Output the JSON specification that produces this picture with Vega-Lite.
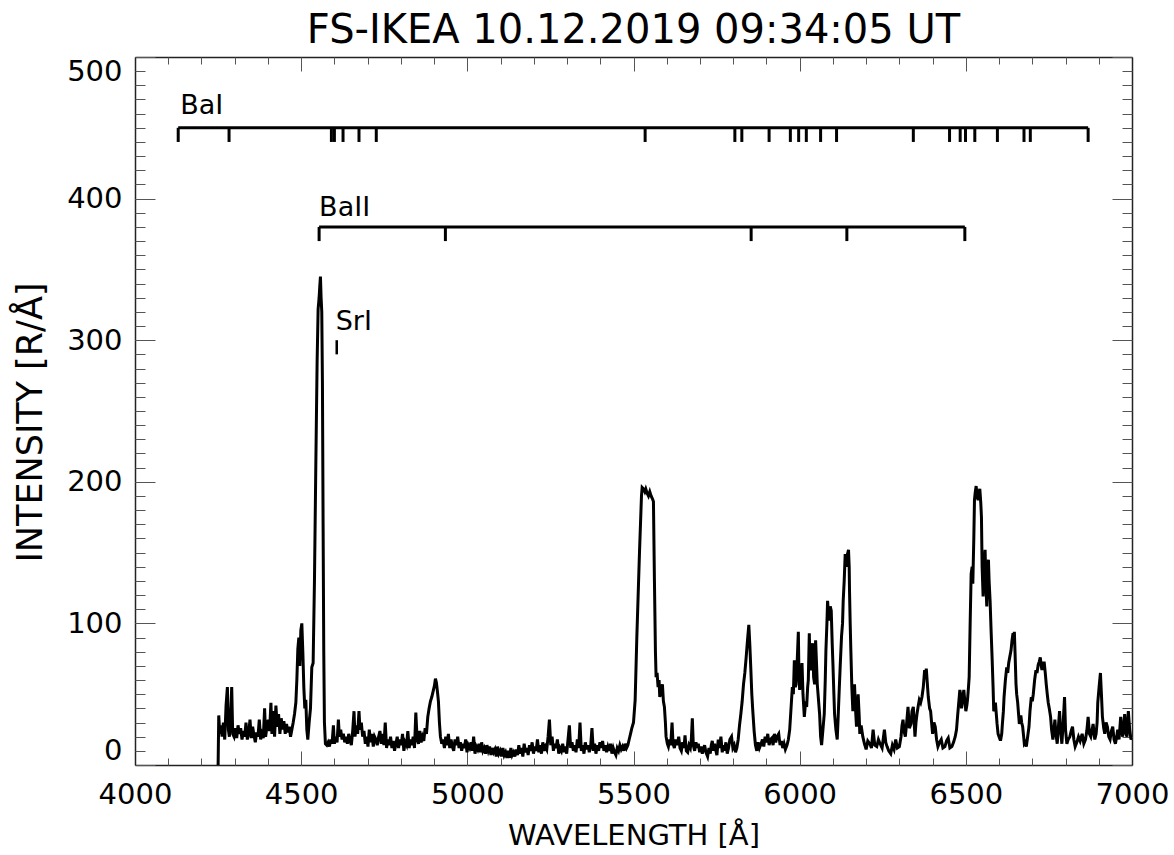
{
"$schema": "https://vega.github.io/schema/vega-lite/v6.json",
"width": 997, "height": 708,
"autosize": {"type": "none"},
"padding": {"left": 135, "top": 57, "right": 42, "bottom": 90},
"background": "white",
"title": {"text": "FS-IKEA 10.12.2019 09:34:05 UT", "fontSize": 40, "font": "DejaVu Sans", "fontWeight": "normal", "anchor": "middle", "frame": "group", "baseline": "alphabetic", "offset": 13, "dy": 39, "color": "black"},
"config": {"view": {"stroke": null}, "font": "DejaVu Sans",
  "axis": {"grid": false, "labelFont": "DejaVu Sans", "titleFont": "DejaVu Sans", "labelColor": "black", "titleColor": "black", "titleFontWeight": "normal", "domainColor": "#222", "domainWidth": 1.5, "tickColor": "#555", "tickWidth": 1, "labelOverlap": false, "labelBound": false}},
"datasets": {
"spec": [
{"w":4249,"i":-20},{"w":4252,"i":35},{"w":4255,"i":22},{"w":4259,"i":28},{"w":4262,"i":20},{"w":4266,"i":30},{"w":4270,"i":18},{"w":4274,"i":42},{"w":4278,"i":55},{"w":4281,"i":25},{"w":4284,"i":20},{"w":4288,"i":35},{"w":4291,"i":55},{"w":4294,"i":22},{"w":4298,"i":20},{"w":4302,"i":26},{"w":4306,"i":19},{"w":4310,"i":28},{"w":4314,"i":22},{"w":4318,"i":26},{"w":4322,"i":18},{"w":4326,"i":24},{"w":4330,"i":20},{"w":4334,"i":30},{"w":4338,"i":18},{"w":4342,"i":22},{"w":4346,"i":32},{"w":4350,"i":19},{"w":4354,"i":27},{"w":4358,"i":21},{"w":4362,"i":16},{"w":4366,"i":23},{"w":4370,"i":20},{"w":4374,"i":32},{"w":4378,"i":18},{"w":4382,"i":22},{"w":4386,"i":19},{"w":4390,"i":40},{"w":4393,"i":20},{"w":4397,"i":27},{"w":4401,"i":32},{"w":4405,"i":24},{"w":4409,"i":44},{"w":4412,"i":22},{"w":4416,"i":38},{"w":4420,"i":20},{"w":4424,"i":42},{"w":4428,"i":27},{"w":4432,"i":36},{"w":4436,"i":22},{"w":4440,"i":33},{"w":4444,"i":25},{"w":4448,"i":31},{"w":4452,"i":22},{"w":4456,"i":29},{"w":4460,"i":23},{"w":4464,"i":27},{"w":4468,"i":20},{"w":4472,"i":25},{"w":4476,"i":30},{"w":4480,"i":36},{"w":4484,"i":44},{"w":4487,"i":60},{"w":4490,"i":82},{"w":4493,"i":90},{"w":4496,"i":70},{"w":4499,"i":95},{"w":4502,"i":100},{"w":4505,"i":80},{"w":4508,"i":55},{"w":4511,"i":40},{"w":4514,"i":46},{"w":4517,"i":25},{"w":4520,"i":18},{"w":4524,"i":30},{"w":4528,"i":40},{"w":4532,"i":69},{"w":4536,"i":72},{"w":4540,"i":130},{"w":4544,"i":210},{"w":4548,"i":285},{"w":4551,"i":322},{"w":4554,"i":330},{"w":4556,"i":338},{"w":4558,"i":345},{"w":4560,"i":330},{"w":4562,"i":320},{"w":4564,"i":270},{"w":4566,"i":170},{"w":4568,"i":80},{"w":4570,"i":30},{"w":4573,"i":15},{"w":4577,"i":14},{"w":4581,"i":16},{"w":4585,"i":13},{"w":4589,"i":18},{"w":4593,"i":15},{"w":4597,"i":28},{"w":4600,"i":15},{"w":4604,"i":20},{"w":4608,"i":16},{"w":4612,"i":32},{"w":4615,"i":20},{"w":4619,"i":25},{"w":4623,"i":18},{"w":4627,"i":22},{"w":4631,"i":16},{"w":4635,"i":20},{"w":4639,"i":15},{"w":4643,"i":22},{"w":4647,"i":17},{"w":4651,"i":14},{"w":4655,"i":24},{"w":4659,"i":38},{"w":4662,"i":20},{"w":4666,"i":28},{"w":4670,"i":22},{"w":4674,"i":38},{"w":4677,"i":25},{"w":4681,"i":30},{"w":4685,"i":20},{"w":4689,"i":24},{"w":4693,"i":15},{"w":4697,"i":20},{"w":4701,"i":13},{"w":4705,"i":25},{"w":4709,"i":16},{"w":4713,"i":22},{"w":4717,"i":13},{"w":4721,"i":20},{"w":4725,"i":18},{"w":4729,"i":14},{"w":4733,"i":20},{"w":4737,"i":24},{"w":4741,"i":15},{"w":4745,"i":22},{"w":4749,"i":14},{"w":4753,"i":30},{"w":4757,"i":12},{"w":4761,"i":18},{"w":4765,"i":14},{"w":4769,"i":20},{"w":4773,"i":12},{"w":4777,"i":17},{"w":4781,"i":10},{"w":4785,"i":15},{"w":4789,"i":20},{"w":4793,"i":12},{"w":4797,"i":18},{"w":4801,"i":14},{"w":4805,"i":22},{"w":4809,"i":10},{"w":4813,"i":16},{"w":4817,"i":14},{"w":4821,"i":24},{"w":4825,"i":12},{"w":4829,"i":18},{"w":4833,"i":14},{"w":4837,"i":20},{"w":4841,"i":12},{"w":4845,"i":37},{"w":4849,"i":18},{"w":4853,"i":15},{"w":4857,"i":24},{"w":4861,"i":16},{"w":4865,"i":20},{"w":4869,"i":17},{"w":4873,"i":26},{"w":4877,"i":22},{"w":4881,"i":34},{"w":4885,"i":40},{"w":4889,"i":45},{"w":4893,"i":48},{"w":4897,"i":52},{"w":4901,"i":56},{"w":4904,"i":61},{"w":4907,"i":58},{"w":4910,"i":52},{"w":4913,"i":45},{"w":4916,"i":30},{"w":4919,"i":20},{"w":4923,"i":15},{"w":4927,"i":18},{"w":4931,"i":12},{"w":4935,"i":20},{"w":4939,"i":14},{"w":4943,"i":22},{"w":4947,"i":12},{"w":4951,"i":18},{"w":4955,"i":13},{"w":4959,"i":10},{"w":4963,"i":18},{"w":4967,"i":14},{"w":4971,"i":20},{"w":4975,"i":12},{"w":4979,"i":16},{"w":4983,"i":10},{"w":4987,"i":15},{"w":4991,"i":12},{"w":4995,"i":18},{"w":4999,"i":9},{"w":5003,"i":14},{"w":5007,"i":12},{"w":5011,"i":16},{"w":5015,"i":10},{"w":5019,"i":20},{"w":5023,"i":8},{"w":5027,"i":13},{"w":5031,"i":11},{"w":5035,"i":15},{"w":5039,"i":9},{"w":5043,"i":16},{"w":5047,"i":10},{"w":5051,"i":12},{"w":5055,"i":8},{"w":5059,"i":14},{"w":5063,"i":10},{"w":5067,"i":13},{"w":5071,"i":7},{"w":5075,"i":12},{"w":5079,"i":9},{"w":5083,"i":11},{"w":5087,"i":6},{"w":5091,"i":13},{"w":5095,"i":8},{"w":5099,"i":10},{"w":5103,"i":6},{"w":5107,"i":12},{"w":5111,"i":7},{"w":5115,"i":9},{"w":5119,"i":5},{"w":5123,"i":10},{"w":5127,"i":5},{"w":5131,"i":12},{"w":5135,"i":7},{"w":5139,"i":9},{"w":5143,"i":6},{"w":5147,"i":11},{"w":5151,"i":7},{"w":5155,"i":14},{"w":5159,"i":8},{"w":5163,"i":12},{"w":5167,"i":6},{"w":5171,"i":15},{"w":5175,"i":9},{"w":5179,"i":12},{"w":5183,"i":7},{"w":5187,"i":14},{"w":5191,"i":10},{"w":5195,"i":16},{"w":5199,"i":8},{"w":5203,"i":13},{"w":5207,"i":10},{"w":5211,"i":18},{"w":5215,"i":9},{"w":5219,"i":14},{"w":5223,"i":8},{"w":5227,"i":16},{"w":5231,"i":10},{"w":5235,"i":13},{"w":5239,"i":11},{"w":5243,"i":20},{"w":5247,"i":32},{"w":5251,"i":14},{"w":5255,"i":20},{"w":5259,"i":10},{"w":5263,"i":15},{"w":5267,"i":12},{"w":5271,"i":18},{"w":5275,"i":8},{"w":5279,"i":12},{"w":5283,"i":10},{"w":5287,"i":15},{"w":5291,"i":9},{"w":5295,"i":13},{"w":5299,"i":8},{"w":5303,"i":18},{"w":5307,"i":28},{"w":5311,"i":12},{"w":5315,"i":16},{"w":5319,"i":10},{"w":5323,"i":14},{"w":5327,"i":9},{"w":5331,"i":18},{"w":5335,"i":12},{"w":5339,"i":30},{"w":5343,"i":10},{"w":5347,"i":14},{"w":5351,"i":8},{"w":5355,"i":16},{"w":5359,"i":11},{"w":5363,"i":14},{"w":5367,"i":9},{"w":5371,"i":13},{"w":5375,"i":26},{"w":5379,"i":10},{"w":5383,"i":15},{"w":5387,"i":8},{"w":5391,"i":14},{"w":5395,"i":10},{"w":5399,"i":16},{"w":5403,"i":12},{"w":5407,"i":17},{"w":5411,"i":10},{"w":5415,"i":14},{"w":5419,"i":9},{"w":5423,"i":13},{"w":5427,"i":10},{"w":5431,"i":15},{"w":5435,"i":8},{"w":5439,"i":12},{"w":5443,"i":9},{"w":5447,"i":7},{"w":5451,"i":12},{"w":5455,"i":10},{"w":5459,"i":14},{"w":5463,"i":11},{"w":5467,"i":13},{"w":5471,"i":10},{"w":5475,"i":15},{"w":5479,"i":12},{"w":5483,"i":14},{"w":5487,"i":18},{"w":5491,"i":22},{"w":5495,"i":26},{"w":5500,"i":30},{"w":5505,"i":46},{"w":5510,"i":90},{"w":5514,"i":120},{"w":5518,"i":150},{"w":5521,"i":170},{"w":5524,"i":190},{"w":5526,"i":196},{"w":5530,"i":195},{"w":5534,"i":193},{"w":5537,"i":195},{"w":5541,"i":192},{"w":5545,"i":190},{"w":5549,"i":193},{"w":5553,"i":190},{"w":5557,"i":188},{"w":5560,"i":186},{"w":5563,"i":130},{"w":5566,"i":80},{"w":5568,"i":62},{"w":5571,"i":65},{"w":5574,"i":55},{"w":5577,"i":60},{"w":5579,"i":48},{"w":5583,"i":52},{"w":5587,"i":57},{"w":5590,"i":45},{"w":5593,"i":41},{"w":5596,"i":30},{"w":5598,"i":20},{"w":5602,"i":15},{"w":5605,"i":13},{"w":5609,"i":18},{"w":5612,"i":14},{"w":5616,"i":30},{"w":5619,"i":15},{"w":5623,"i":12},{"w":5627,"i":18},{"w":5632,"i":14},{"w":5636,"i":20},{"w":5640,"i":12},{"w":5644,"i":10},{"w":5648,"i":16},{"w":5652,"i":12},{"w":5655,"i":21},{"w":5659,"i":10},{"w":5663,"i":9},{"w":5667,"i":14},{"w":5671,"i":12},{"w":5674,"i":18},{"w":5677,"i":33},{"w":5680,"i":14},{"w":5684,"i":10},{"w":5688,"i":16},{"w":5692,"i":12},{"w":5695,"i":15},{"w":5699,"i":9},{"w":5703,"i":13},{"w":5707,"i":8},{"w":5710,"i":11},{"w":5714,"i":14},{"w":5718,"i":9},{"w":5723,"i":6},{"w":5727,"i":12},{"w":5731,"i":8},{"w":5734,"i":14},{"w":5737,"i":17},{"w":5741,"i":10},{"w":5744,"i":15},{"w":5747,"i":11},{"w":5751,"i":7},{"w":5755,"i":18},{"w":5759,"i":12},{"w":5763,"i":20},{"w":5767,"i":9},{"w":5771,"i":14},{"w":5774,"i":10},{"w":5778,"i":16},{"w":5782,"i":8},{"w":5786,"i":12},{"w":5790,"i":18},{"w":5795,"i":20},{"w":5799,"i":12},{"w":5803,"i":14},{"w":5807,"i":9},{"w":5811,"i":12},{"w":5815,"i":18},{"w":5819,"i":28},{"w":5823,"i":36},{"w":5827,"i":45},{"w":5831,"i":57},{"w":5835,"i":65},{"w":5839,"i":76},{"w":5843,"i":88},{"w":5847,"i":99},{"w":5850,"i":85},{"w":5853,"i":68},{"w":5856,"i":50},{"w":5859,"i":38},{"w":5863,"i":24},{"w":5867,"i":14},{"w":5871,"i":10},{"w":5875,"i":16},{"w":5879,"i":12},{"w":5884,"i":15},{"w":5888,"i":18},{"w":5892,"i":13},{"w":5896,"i":20},{"w":5900,"i":16},{"w":5904,"i":22},{"w":5908,"i":14},{"w":5912,"i":18},{"w":5916,"i":19},{"w":5920,"i":14},{"w":5924,"i":22},{"w":5928,"i":16},{"w":5932,"i":20},{"w":5937,"i":22},{"w":5941,"i":14},{"w":5945,"i":17},{"w":5949,"i":12},{"w":5953,"i":15},{"w":5957,"i":11},{"w":5962,"i":14},{"w":5966,"i":18},{"w":5970,"i":25},{"w":5974,"i":40},{"w":5978,"i":55},{"w":5981,"i":50},{"w":5984,"i":74},{"w":5987,"i":55},{"w":5989,"i":57},{"w":5992,"i":70},{"w":5996,"i":94},{"w":5998,"i":62},{"w":6000,"i":53},{"w":6003,"i":60},{"w":6007,"i":72},{"w":6010,"i":50},{"w":6014,"i":34},{"w":6018,"i":45},{"w":6021,"i":41},{"w":6024,"i":55},{"w":6026,"i":60},{"w":6029,"i":93},{"w":6031,"i":70},{"w":6034,"i":67},{"w":6036,"i":78},{"w":6039,"i":86},{"w":6042,"i":62},{"w":6045,"i":57},{"w":6048,"i":88},{"w":6051,"i":70},{"w":6053,"i":57},{"w":6057,"i":45},{"w":6060,"i":36},{"w":6063,"i":20},{"w":6066,"i":14},{"w":6070,"i":25},{"w":6074,"i":36},{"w":6077,"i":60},{"w":6079,"i":81},{"w":6082,"i":100},{"w":6084,"i":116},{"w":6087,"i":105},{"w":6089,"i":102},{"w":6092,"i":112},{"w":6095,"i":109},{"w":6098,"i":85},{"w":6100,"i":72},{"w":6103,"i":50},{"w":6105,"i":36},{"w":6109,"i":25},{"w":6113,"i":18},{"w":6116,"i":35},{"w":6119,"i":53},{"w":6122,"i":70},{"w":6126,"i":91},{"w":6129,"i":100},{"w":6131,"i":116},{"w":6134,"i":130},{"w":6137,"i":149},{"w":6140,"i":140},{"w":6142,"i":147},{"w":6145,"i":150},{"w":6147,"i":152},{"w":6149,"i":140},{"w":6150,"i":123},{"w":6152,"i":100},{"w":6154,"i":81},{"w":6157,"i":55},{"w":6160,"i":38},{"w":6163,"i":50},{"w":6165,"i":57},{"w":6168,"i":40},{"w":6171,"i":27},{"w":6174,"i":40},{"w":6176,"i":50},{"w":6179,"i":35},{"w":6181,"i":22},{"w":6185,"i":28},{"w":6190,"i":20},{"w":6195,"i":15},{"w":6200,"i":11},{"w":6205,"i":17},{"w":6211,"i":15},{"w":6216,"i":12},{"w":6221,"i":25},{"w":6226,"i":14},{"w":6232,"i":13},{"w":6237,"i":18},{"w":6242,"i":15},{"w":6248,"i":12},{"w":6255,"i":25},{"w":6259,"i":16},{"w":6263,"i":13},{"w":6268,"i":10},{"w":6274,"i":8},{"w":6279,"i":14},{"w":6284,"i":11},{"w":6289,"i":18},{"w":6294,"i":12},{"w":6300,"i":13},{"w":6305,"i":20},{"w":6308,"i":28},{"w":6311,"i":32},{"w":6314,"i":24},{"w":6318,"i":20},{"w":6322,"i":30},{"w":6326,"i":41},{"w":6330,"i":26},{"w":6335,"i":29},{"w":6338,"i":38},{"w":6342,"i":41},{"w":6345,"i":28},{"w":6347,"i":20},{"w":6350,"i":30},{"w":6353,"i":36},{"w":6357,"i":42},{"w":6360,"i":46},{"w":6364,"i":44},{"w":6368,"i":48},{"w":6372,"i":55},{"w":6376,"i":67},{"w":6379,"i":62},{"w":6381,"i":68},{"w":6384,"i":58},{"w":6387,"i":48},{"w":6391,"i":40},{"w":6394,"i":38},{"w":6397,"i":30},{"w":6400,"i":22},{"w":6404,"i":30},{"w":6408,"i":27},{"w":6412,"i":18},{"w":6416,"i":13},{"w":6421,"i":16},{"w":6426,"i":18},{"w":6431,"i":12},{"w":6437,"i":13},{"w":6442,"i":17},{"w":6447,"i":19},{"w":6452,"i":12},{"w":6458,"i":13},{"w":6463,"i":16},{"w":6468,"i":20},{"w":6472,"i":25},{"w":6475,"i":34},{"w":6479,"i":45},{"w":6482,"i":53},{"w":6484,"i":50},{"w":6487,"i":40},{"w":6489,"i":44},{"w":6492,"i":50},{"w":6494,"i":53},{"w":6497,"i":45},{"w":6500,"i":38},{"w":6503,"i":42},{"w":6505,"i":46},{"w":6508,"i":55},{"w":6510,"i":62},{"w":6513,"i":100},{"w":6516,"i":135},{"w":6519,"i":140},{"w":6521,"i":128},{"w":6524,"i":160},{"w":6526,"i":187},{"w":6528,"i":192},{"w":6531,"i":197},{"w":6534,"i":190},{"w":6537,"i":187},{"w":6539,"i":192},{"w":6542,"i":195},{"w":6545,"i":185},{"w":6547,"i":175},{"w":6549,"i":140},{"w":6552,"i":119},{"w":6555,"i":140},{"w":6558,"i":152},{"w":6560,"i":130},{"w":6563,"i":112},{"w":6565,"i":130},{"w":6568,"i":145},{"w":6570,"i":130},{"w":6573,"i":116},{"w":6576,"i":95},{"w":6579,"i":76},{"w":6582,"i":55},{"w":6584,"i":38},{"w":6587,"i":40},{"w":6589,"i":44},{"w":6592,"i":35},{"w":6594,"i":29},{"w":6597,"i":22},{"w":6600,"i":20},{"w":6603,"i":18},{"w":6605,"i":18},{"w":6608,"i":22},{"w":6610,"i":29},{"w":6613,"i":38},{"w":6615,"i":48},{"w":6619,"i":60},{"w":6623,"i":69},{"w":6626,"i":65},{"w":6629,"i":72},{"w":6632,"i":76},{"w":6636,"i":81},{"w":6639,"i":88},{"w":6642,"i":93},{"w":6644,"i":90},{"w":6646,"i":94},{"w":6648,"i":80},{"w":6651,"i":57},{"w":6653,"i":50},{"w":6656,"i":44},{"w":6659,"i":35},{"w":6661,"i":29},{"w":6664,"i":34},{"w":6666,"i":34},{"w":6668,"i":30},{"w":6671,"i":27},{"w":6674,"i":20},{"w":6676,"i":15},{"w":6679,"i":16},{"w":6682,"i":13},{"w":6686,"i":20},{"w":6690,"i":27},{"w":6693,"i":38},{"w":6697,"i":48},{"w":6700,"i":45},{"w":6703,"i":50},{"w":6707,"i":60},{"w":6711,"i":67},{"w":6714,"i":65},{"w":6718,"i":71},{"w":6721,"i":73},{"w":6724,"i":76},{"w":6727,"i":70},{"w":6729,"i":67},{"w":6732,"i":72},{"w":6736,"i":72},{"w":6739,"i":65},{"w":6742,"i":57},{"w":6745,"i":50},{"w":6748,"i":44},{"w":6751,"i":40},{"w":6755,"i":34},{"w":6758,"i":25},{"w":6762,"i":18},{"w":6765,"i":25},{"w":6768,"i":32},{"w":6771,"i":22},{"w":6775,"i":15},{"w":6778,"i":25},{"w":6782,"i":38},{"w":6785,"i":25},{"w":6789,"i":15},{"w":6793,"i":30},{"w":6797,"i":48},{"w":6800,"i":25},{"w":6804,"i":15},{"w":6808,"i":18},{"w":6813,"i":20},{"w":6817,"i":24},{"w":6821,"i":27},{"w":6825,"i":18},{"w":6829,"i":13},{"w":6834,"i":16},{"w":6839,"i":20},{"w":6844,"i":17},{"w":6850,"i":22},{"w":6855,"i":15},{"w":6860,"i":18},{"w":6864,"i":24},{"w":6868,"i":34},{"w":6872,"i":22},{"w":6876,"i":20},{"w":6880,"i":25},{"w":6883,"i":29},{"w":6888,"i":18},{"w":6892,"i":22},{"w":6895,"i":30},{"w":6897,"i":44},{"w":6901,"i":55},{"w":6905,"i":65},{"w":6908,"i":50},{"w":6911,"i":34},{"w":6915,"i":26},{"w":6918,"i":22},{"w":6922,"i":30},{"w":6926,"i":27},{"w":6930,"i":20},{"w":6934,"i":18},{"w":6938,"i":24},{"w":6942,"i":27},{"w":6946,"i":18},{"w":6950,"i":15},{"w":6954,"i":20},{"w":6957,"i":25},{"w":6961,"i":18},{"w":6966,"i":34},{"w":6969,"i":25},{"w":6972,"i":20},{"w":6975,"i":28},{"w":6978,"i":36},{"w":6982,"i":22},{"w":6985,"i":20},{"w":6987,"i":30},{"w":6989,"i":38},{"w":6993,"i":25},{"w":6997,"i":18},{"w":7000,"i":20}
],
"lines": [
{"ion":"BaI","w":4130},{"ion":"BaI","w":4283},{"ion":"BaI","w":4591},{"ion":"BaI","w":4600},{"ion":"BaI","w":4626},{"ion":"BaI","w":4674},{"ion":"BaI","w":4726},{"ion":"BaI","w":5535},{"ion":"BaI","w":5805},{"ion":"BaI","w":5826},{"ion":"BaI","w":5908},{"ion":"BaI","w":5972},{"ion":"BaI","w":5997},{"ion":"BaI","w":6020},{"ion":"BaI","w":6063},{"ion":"BaI","w":6111},{"ion":"BaI","w":6342},{"ion":"BaI","w":6451},{"ion":"BaI","w":6483},{"ion":"BaI","w":6499},{"ion":"BaI","w":6527},{"ion":"BaI","w":6595},{"ion":"BaI","w":6675},{"ion":"BaI","w":6694},{"ion":"BaI","w":6868},
{"ion":"BaII","w":4554},{"ion":"BaII","w":4934},{"ion":"BaII","w":5854},{"ion":"BaII","w":6142},{"ion":"BaII","w":6497},
{"ion":"SrI","w":4607}
]
},
"layer": [
{"data": {"name": "spec"},
 "mark": {"type": "line", "color": "black", "strokeWidth": 3, "clip": true},
 "encoding": {
  "x": {"field": "w", "type": "quantitative", "scale": {"domain": [4000, 7000], "nice": false, "zero": false},
        "axis": {"orient": "bottom", "values": [4000, 4500, 5000, 5500, 6000, 6500, 7000], "ticks": false, "tickSize": 0, "labelPadding": 15, "labelFontSize": 29, "labelFlush": false, "format": "d", "title": "WAVELENGTH [Å]", "titleFontSize": 29, "titleY": 70, "titleBaseline": "middle"}},
  "y": {"field": "i", "type": "quantitative", "scale": {"domain": [0, 500], "nice": false, "zero": false},
        "axis": {"orient": "left", "values": [0, 100, 200, 300, 400, 500], "ticks": false, "tickSize": 0, "labelPadding": 13, "labelFontSize": 29, "labelFlush": true, "format": "d", "title": "INTENSITY [R/Å]", "titleFontSize": 35, "titleAngle": -90, "titleX": -105, "titleY": 365, "titleBaseline": "middle"}}
 }},
{"data": {"name": "spec"},
 "mark": {"type": "point", "opacity": 0},
 "encoding": {
  "x": {"field": "w", "type": "quantitative", "scale": {"domain": [4000, 7000], "nice": false, "zero": false},
        "axis": {"orient": "bottom", "values": [4000, 4500, 5000, 5500, 6000, 6500, 7000], "labels": false, "domain": false, "title": null, "tickSize": -14}},
  "y": {"field": "i", "type": "quantitative", "scale": {"domain": [0, 500], "nice": false, "zero": false},
        "axis": {"orient": "left", "values": [0, 100, 200, 300, 400, 500], "labels": false, "domain": false, "title": null, "tickSize": -20}}
 }},
{"data": {"name": "spec"},
 "mark": {"type": "point", "opacity": 0},
 "encoding": {
  "x": {"field": "w", "type": "quantitative", "scale": {"domain": [4000, 7000], "nice": false, "zero": false},
        "axis": {"orient": "bottom", "values": [4000,4100,4200,4300,4400,4500,4600,4700,4800,4900,5000,5100,5200,5300,5400,5500,5600,5700,5800,5900,6000,6100,6200,6300,6400,6500,6600,6700,6800,6900,7000], "labels": false, "domain": false, "title": null, "tickSize": -7}},
  "y": {"field": "i", "type": "quantitative", "scale": {"domain": [0, 500], "nice": false, "zero": false},
        "axis": {"orient": "left", "values": [0,10,20,30,40,50,60,70,80,90,100,110,120,130,140,150,160,170,180,190,200,210,220,230,240,250,260,270,280,290,300,310,320,330,340,350,360,370,380,390,400,410,420,430,440,450,460,470,480,490,500], "labels": false, "domain": false, "title": null, "tickSize": -10}}
 }},
{"data": {"name": "spec"},
 "mark": {"type": "point", "opacity": 0},
 "encoding": {
  "x": {"field": "w", "type": "quantitative", "scale": {"domain": [4000, 7000], "nice": false, "zero": false},
        "axis": {"orient": "top", "values": [4000, 4500, 5000, 5500, 6000, 6500, 7000], "labels": false, "domain": true, "title": null, "tickSize": -14}},
  "y": {"field": "i", "type": "quantitative", "scale": {"domain": [0, 500], "nice": false, "zero": false},
        "axis": {"orient": "right", "values": [0, 100, 200, 300, 400, 500], "labels": false, "domain": true, "title": null, "tickSize": -20}}
 }},
{"data": {"name": "spec"},
 "mark": {"type": "point", "opacity": 0},
 "encoding": {
  "x": {"field": "w", "type": "quantitative", "scale": {"domain": [4000, 7000], "nice": false, "zero": false},
        "axis": {"orient": "top", "values": [4000,4100,4200,4300,4400,4500,4600,4700,4800,4900,5000,5100,5200,5300,5400,5500,5600,5700,5800,5900,6000,6100,6200,6300,6400,6500,6600,6700,6800,6900,7000], "labels": false, "domain": false, "title": null, "tickSize": -7}},
  "y": {"field": "i", "type": "quantitative", "scale": {"domain": [0, 500], "nice": false, "zero": false},
        "axis": {"orient": "right", "values": [0,10,20,30,40,50,60,70,80,90,100,110,120,130,140,150,160,170,180,190,200,210,220,230,240,250,260,270,280,290,300,310,320,330,340,350,360,370,380,390,400,410,420,430,440,450,460,470,480,490,500], "labels": false, "domain": false, "title": null, "tickSize": -10}}
 }},
{"data": {"name": "lines"}, "transform": [{"filter": "datum.ion === 'BaI'"}],
 "mark": {"type": "rule", "color": "black", "strokeWidth": 3},
 "encoding": {
  "x": {"aggregate": "min", "field": "w", "type": "quantitative", "scale": {"domain": [4000, 7000], "nice": false, "zero": false}, "axis": null},
  "x2": {"aggregate": "max", "field": "w"},
  "y": {"datum": 450, "type": "quantitative", "scale": {"domain": [0, 500], "nice": false, "zero": false}, "axis": null}
 }},
{"data": {"name": "lines"}, "transform": [{"filter": "datum.ion === 'BaI'"}],
 "mark": {"type": "rule", "color": "black", "strokeWidth": 3},
 "encoding": {
  "x": {"field": "w", "type": "quantitative", "scale": {"domain": [4000, 7000], "nice": false, "zero": false}, "axis": null},
  "y": {"datum": 450, "type": "quantitative", "scale": {"domain": [0, 500], "nice": false, "zero": false}, "axis": null},
  "y2": {"datum": 440}
 }},
{"data": {"name": "lines"}, "transform": [{"filter": "datum.ion === 'BaI'"}],
 "mark": {"type": "text", "align": "left", "baseline": "alphabetic", "fontSize": 27, "font": "DejaVu Sans", "color": "black", "dx": 2},
 "encoding": {
  "x": {"aggregate": "min", "field": "w", "type": "quantitative", "scale": {"domain": [4000, 7000], "nice": false, "zero": false}, "axis": null},
  "y": {"datum": 460, "type": "quantitative", "scale": {"domain": [0, 500], "nice": false, "zero": false}, "axis": null},
  "text": {"field": "ion"}
 }},
{"data": {"name": "lines"}, "transform": [{"filter": "datum.ion === 'BaII'"}],
 "mark": {"type": "rule", "color": "black", "strokeWidth": 3},
 "encoding": {
  "x": {"aggregate": "min", "field": "w", "type": "quantitative", "scale": {"domain": [4000, 7000], "nice": false, "zero": false}, "axis": null},
  "x2": {"aggregate": "max", "field": "w"},
  "y": {"datum": 380, "type": "quantitative", "scale": {"domain": [0, 500], "nice": false, "zero": false}, "axis": null}
 }},
{"data": {"name": "lines"}, "transform": [{"filter": "datum.ion === 'BaII'"}],
 "mark": {"type": "rule", "color": "black", "strokeWidth": 3},
 "encoding": {
  "x": {"field": "w", "type": "quantitative", "scale": {"domain": [4000, 7000], "nice": false, "zero": false}, "axis": null},
  "y": {"datum": 380, "type": "quantitative", "scale": {"domain": [0, 500], "nice": false, "zero": false}, "axis": null},
  "y2": {"datum": 370}
 }},
{"data": {"name": "lines"}, "transform": [{"filter": "datum.ion === 'BaII'"}],
 "mark": {"type": "text", "align": "left", "baseline": "alphabetic", "fontSize": 27, "font": "DejaVu Sans", "color": "black", "dx": 0},
 "encoding": {
  "x": {"aggregate": "min", "field": "w", "type": "quantitative", "scale": {"domain": [4000, 7000], "nice": false, "zero": false}, "axis": null},
  "y": {"datum": 388, "type": "quantitative", "scale": {"domain": [0, 500], "nice": false, "zero": false}, "axis": null},
  "text": {"field": "ion"}
 }},
{"data": {"name": "lines"}, "transform": [{"filter": "datum.ion === 'SrI'"}],
 "mark": {"type": "rule", "color": "black", "strokeWidth": 2.5},
 "encoding": {
  "x": {"field": "w", "type": "quantitative", "scale": {"domain": [4000, 7000], "nice": false, "zero": false}, "axis": null},
  "y": {"datum": 300, "type": "quantitative", "scale": {"domain": [0, 500], "nice": false, "zero": false}, "axis": null},
  "y2": {"datum": 290}
 }},
{"data": {"name": "lines"}, "transform": [{"filter": "datum.ion === 'SrI'"}],
 "mark": {"type": "text", "align": "left", "baseline": "alphabetic", "fontSize": 27, "font": "DejaVu Sans", "color": "black", "dx": -1},
 "encoding": {
  "x": {"aggregate": "min", "field": "w", "type": "quantitative", "scale": {"domain": [4000, 7000], "nice": false, "zero": false}, "axis": null},
  "y": {"datum": 307, "type": "quantitative", "scale": {"domain": [0, 500], "nice": false, "zero": false}, "axis": null},
  "text": {"field": "ion"}
 }}
],
"resolve": {"axis": {"x": "independent", "y": "independent"}}
}
